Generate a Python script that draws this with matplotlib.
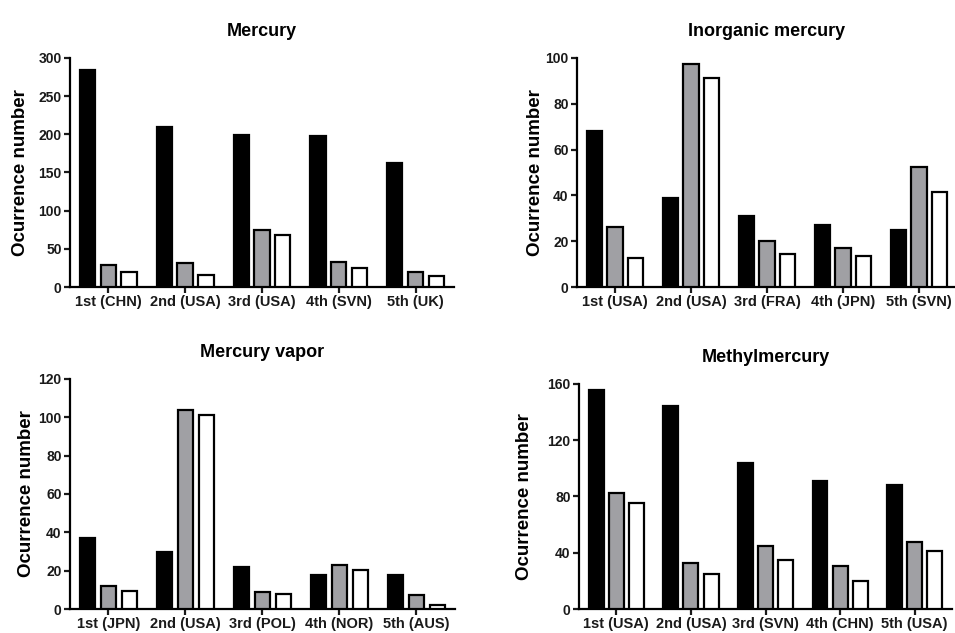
import numpy as np
import matplotlib
matplotlib.use('Agg')
import matplotlib.pyplot as plt

plt.rcParams['font.family'] = ['Liberation Sans', 'DejaVu Sans']
plt.rcParams['font.weight'] = 'bold'

# panel data: black, gray, white series per ranked country
titles = ['Mercury', 'Inorganic mercury', 'Mercury vapor', 'Methylmercury']

labels_hg = ['1st (CHN)', '2nd (USA)', '3rd (USA)', '4th (SVN)', '5th (UK)']
black_hg = [284, 210, 199, 198, 163]
gray_hg = [29, 32, 75, 33, 19]
white_hg = [20, 16, 68, 25, 15]

labels_ihg = ['1st (USA)', '2nd (USA)', '3rd (FRA)', '4th (JPN)', '5th (SVN)']
black_ihg = [68, 39, 31, 27, 25]
gray_ihg = [26, 97.5, 20, 17, 52.5]
white_ihg = [12.7, 91.3, 14.3, 13.4, 41.3]

labels_vap = ['1st (JPN)', '2nd (USA)', '3rd (POL)', '4th (NOR)', '5th (AUS)']
black_vap = [37, 30, 22, 18, 18]
gray_vap = [12, 104, 9, 23, 7.5]
white_vap = [9.5, 101, 8, 20.3, 2]

labels_mehg = ['1st (USA)', '2nd (USA)', '3rd (SVN)', '4th (CHN)', '5th (USA)']
black_mehg = [156, 144, 104, 91, 88]
gray_mehg = [82.5, 32.5, 44.5, 30.5, 47.5]
white_mehg = [75.5, 25, 34.5, 20, 41]

yticks = [np.arange(0, 301, 50), np.arange(0, 101, 20),
          np.arange(0, 121, 20), np.arange(0, 161, 40)]

# [left, bottom, width, height] in figure fractions, label x in axes coords
rects = [[0.0733, 0.5466, 0.402, 0.3618],
         [0.6042, 0.5466, 0.3979, 0.3618],
         [0.0733, 0.0379, 0.4031, 0.3634],
         [0.6063, 0.0379, 0.3906, 0.3555]]
label_x = [-0.107, -0.087, -0.091, -0.123]

panels = [(labels_hg, black_hg, gray_hg, white_hg),
          (labels_ihg, black_ihg, gray_ihg, white_ihg),
          (labels_vap, black_vap, gray_vap, white_vap),
          (labels_mehg, black_mehg, gray_mehg, white_mehg)]

fig = plt.figure(figsize=(9.55, 6.33), dpi=100)

for i, (labs, b, g, w) in enumerate(panels):
    ax = fig.add_axes(rects[i])
    x = np.arange(len(labs))
    wd = 0.2
    off = 0.27
    kw = dict(edgecolor='black', linewidth=1.6, zorder=3)
    ax.bar(x - off, b, wd, color='black', **kw)
    ax.bar(x, g, wd, color='#a0a0a4', **kw)
    ax.bar(x + off, w, wd, color='white', **kw)

    ax.set_xlim(-0.5, 4.5)
    ax.set_ylim(0, yticks[i][-1])
    ax.set_yticks(yticks[i])
    ax.set_xticks(x)
    ax.set_xticklabels(labs)
    for s in ['top', 'right']:
        ax.spines[s].set_visible(False)
    for s in ['left', 'bottom']:
        ax.spines[s].set_linewidth(1.6)
    ax.tick_params(axis='both', width=1.6, length=4, labelsize=10,
                   colors='#1a1a1a', pad=2)
    ax.tick_params(axis='x', labelsize=10.5)
    ax.set_ylabel('Ocurrence number', fontsize=13.5, fontweight='bold')
    ax.yaxis.set_label_coords(label_x[i], 0.5)
    ax.set_title(titles[i], fontsize=13, fontweight='bold', pad=16)

fig.savefig('out.png', dpi=100)
